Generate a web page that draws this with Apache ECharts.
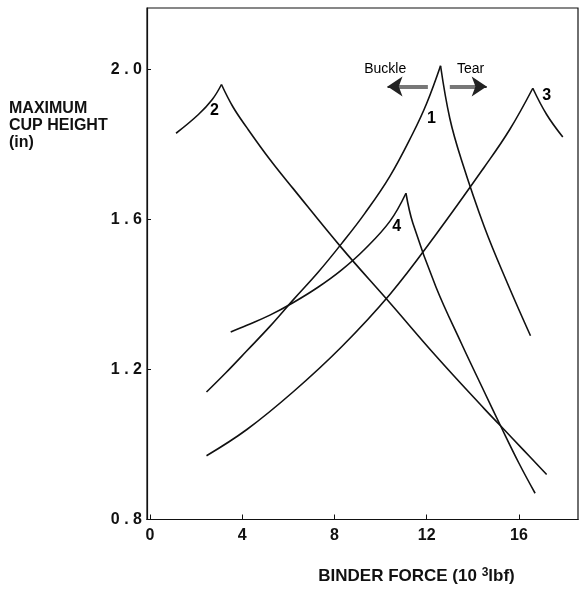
<!DOCTYPE html>
<html><head><meta charset="utf-8">
<script src="https://cdn.jsdelivr.net/npm/echarts@6/dist/echarts.min.js"></script>
<style>html,body{margin:0;padding:0;background:#fff}#c{width:579px;height:590px}</style>
</head><body><div id="c"></div>
<script>
// Binder force (10^3 lbf) vs maximum cup height (in)
const xTicks = [0, 4, 8, 12, 16];
const yTicks = [0.8, 1.2, 1.6, 2.0];

const curve1Up   = [[2.45,1.14],[3.3,1.192],[4.2,1.25],[5.2,1.315],[6.2,1.385],[7.3,1.46],[8.3,1.535],[9.3,1.615],[10.4,1.715],[11.4,1.83],[12.0,1.91],[12.6,2.01]];
const curve1Down = [[12.6,2.01],[13.0,1.87],[13.5,1.76],[14.5,1.58],[15.5,1.43],[16.5,1.29]];
const curve2Up   = [[1.13,1.83],[2.1,1.88],[2.7,1.92],[3.1,1.96]];
const curve2Down = [[3.1,1.96],[3.6,1.90],[4.2,1.845],[5.2,1.76],[6.2,1.683],[8.3,1.525],[10.4,1.378],[12.4,1.236],[14.5,1.095],[15.2,1.05],[16.2,0.985],[17.2,0.92]];
const curve3Up   = [[2.45,0.97],[4.2,1.04],[6.2,1.14],[8.3,1.26],[10.4,1.40],[12.4,1.56],[14.5,1.74],[15.6,1.84],[16.6,1.95]];
const curve3Down = [[16.6,1.95],[17.2,1.88],[17.9,1.82]];
const curve4Up   = [[3.5,1.30],[4.2,1.318],[5.2,1.345],[6.2,1.378],[7.3,1.42],[8.3,1.465],[9.3,1.52],[10.4,1.595],[11.1,1.67]];
const curve4Down = [[11.1,1.67],[11.4,1.59],[12.4,1.42],[13.5,1.27],[14.5,1.14],[15.2,1.05],[16.0,0.95],[16.7,0.87]];

const curveLabels = [{name:'1', x:12.2, y:1.87},{name:'2', x:2.8, y:1.89},{name:'3', x:17.2, y:1.93},{name:'4', x:10.7, y:1.58}];
const notes = [{name:'Buckle', x:10.2, y:2.0},{name:'Tear', x:13.9, y:2.0}];
const buckleArrow = [[12.05,1.955],[10.3,1.955]];
const tearArrow = [[13.0,1.955],[14.6,1.955]];

const font = 'Liberation Sans, Arial, sans-serif';
const lineStyle = {color:'#111', width:1.6};
function curve(data){
  return {type:'line', data, smooth:0.4, showSymbol:false, symbol:'none', lineStyle, silent:true, z:3};
}
function arrow(data){
  const [a, b] = data;
  const headStart = [b[0] + (a[0] - b[0]) * 0.25, b[1]];
  return {type:'line', data:[], markLine:{silent:true, symbol:'none', label:{show:false},
    animation:false,
    data:[
      [{coord:a, symbol:'none', lineStyle:{color:'#777', width:4, type:'solid'}},
       {coord:headStart, symbol:'none'}],
      [{coord:headStart, symbol:'none', lineStyle:{color:'#222', width:2, type:'solid'}},
       {coord:b, symbol:'arrow', symbolSize:15, itemStyle:{color:'#222'}}]
    ]}};
}
function ySpaced(v){ return v.toFixed(1).split('').join(' '); }
const chart = echarts.init(document.getElementById('c'));
chart.setOption({
  animation:false,
  backgroundColor:'#fff',
  title:{text:'MAXIMUM\nCUP HEIGHT\n(in)', left:4, top:95,
    textStyle:{fontFamily:font, fontWeight:'bold', fontSize:16, lineHeight:17, color:'#111'}},
  grid:{left:147, right:1, top:8, bottom:67, show:true, borderColor:'#111', borderWidth:1.2},
  xAxis:{type:'value', min:-0.13, max:18.56,
    axisLine:{show:true, onZero:false, lineStyle:{color:'#111', width:1.2}},
    axisTick:{show:true, inside:true, length:5, customValues:xTicks, lineStyle:{color:'#111'}},
    axisLabel:{customValues:xTicks, fontFamily:font, fontWeight:'bold', fontSize:16, color:'#111', margin:8},
    splitLine:{show:false},
    name:'BINDER FORCE (10 {sup|3}lbf)', nameLocation:'middle', nameGap:47,
    nameTextStyle:{fontFamily:font, fontWeight:'bold', fontSize:17, color:'#111', padding:[0,0,0,108],
      rich:{sup:{fontFamily:font, fontWeight:'bold', fontSize:12, color:'#111', verticalAlign:'top', padding:[0,0,8,0]}}}
  },
  yAxis:{type:'value', min:0.8, max:2.164,
    axisLine:{show:true, onZero:false, lineStyle:{color:'#111', width:1.2}},
    axisTick:{show:true, inside:true, length:4, customValues:yTicks, lineStyle:{color:'#111'}},
    axisLabel:{customValues:yTicks, formatter:ySpaced,
      fontFamily:font, fontWeight:'bold', fontSize:16, color:'#111', margin:5},
    splitLine:{show:false}
  },
  series:[
    curve(curve1Up), curve(curve1Down), curve(curve2Up), curve(curve2Down),
    curve(curve3Up), curve(curve3Down), curve(curve4Up), curve(curve4Down),
    {type:'scatter', data:curveLabels.map(d=>({name:d.name, value:[d.x,d.y]})), symbolSize:0, silent:true,
      itemStyle:{opacity:1},
      label:{show:true, position:'inside', formatter:p=>p.name, fontFamily:font, fontWeight:'bold', fontSize:16, color:'#000'}},
    {type:'scatter', data:notes.map(d=>({name:d.name, value:[d.x,d.y]})), symbolSize:0, silent:true,
      itemStyle:{opacity:1},
      label:{show:true, position:'inside', formatter:p=>p.name, fontFamily:font, fontSize:14, color:'#000'}},
    arrow(buckleArrow), arrow(tearArrow)
  ]
});
</script></body></html>
